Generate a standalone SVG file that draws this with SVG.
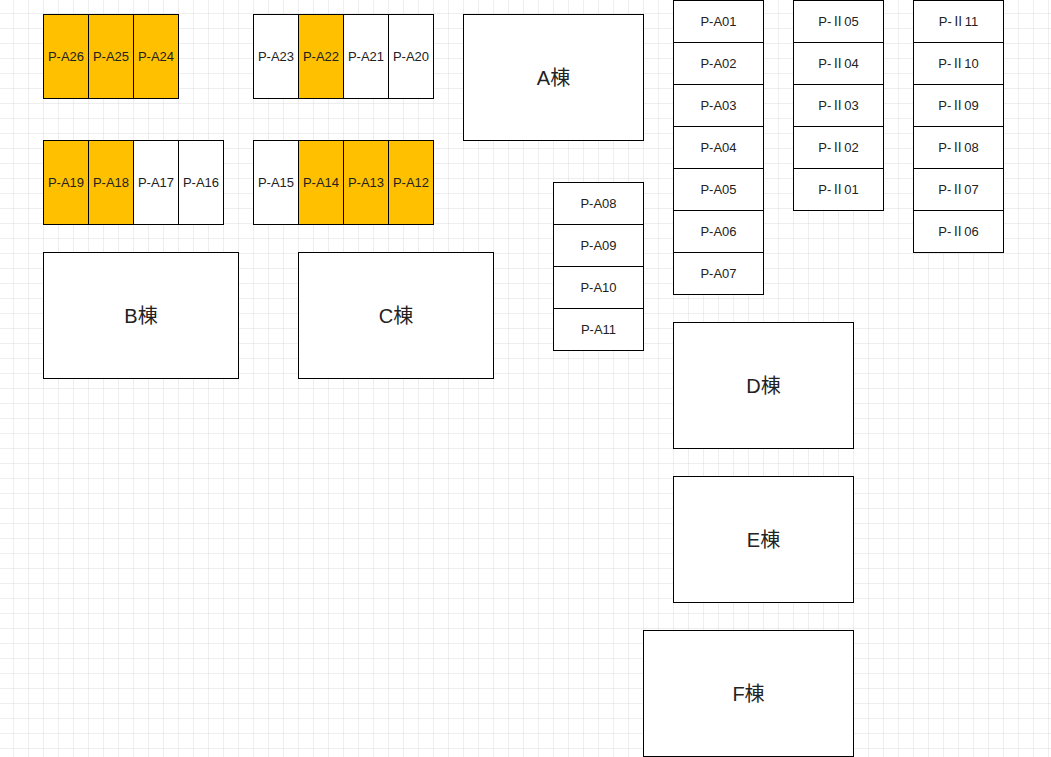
<svg xmlns="http://www.w3.org/2000/svg" width="1051" height="757" viewBox="0 0 1051 757">
<defs>
<pattern id="grid" x="-1" y="-1" width="15" height="15" patternUnits="userSpaceOnUse">
<path d="M15 0V15M0 15H15" fill="none" stroke="#dddddd" stroke-width="1"/>
</pattern>
<style>
rect.c{fill:#fff;stroke:#000;stroke-width:1}
rect.o{fill:#FFC000;stroke:#000;stroke-width:1}
text{font-family:"Liberation Sans","Noto Sans CJK JP",sans-serif;fill:#222;text-anchor:middle;dominant-baseline:central}
text.s{font-size:13px}
text.b{font-size:20px}
</style>
</defs>
<rect width="1051" height="757" fill="#fff"/>
<rect width="1051" height="757" fill="url(#grid)"/>
<g id="A26"><rect class="o" x="43.5" y="14.5" width="45" height="84"/><text class="s" x="66" y="56.5">P-A26</text></g>
<g id="A25"><rect class="o" x="88.5" y="14.5" width="45" height="84"/><text class="s" x="111" y="56.5">P-A25</text></g>
<g id="A24"><rect class="o" x="133.5" y="14.5" width="45" height="84"/><text class="s" x="156" y="56.5">P-A24</text></g>
<g id="A23"><rect class="c" x="253.5" y="14.5" width="45" height="84"/><text class="s" x="276" y="56.5">P-A23</text></g>
<g id="A22"><rect class="o" x="298.5" y="14.5" width="45" height="84"/><text class="s" x="321" y="56.5">P-A22</text></g>
<g id="A21"><rect class="c" x="343.5" y="14.5" width="45" height="84"/><text class="s" x="366" y="56.5">P-A21</text></g>
<g id="A20"><rect class="c" x="388.5" y="14.5" width="45" height="84"/><text class="s" x="411" y="56.5">P-A20</text></g>
<g id="A19"><rect class="o" x="43.5" y="140.5" width="45" height="84"/><text class="s" x="66" y="182.5">P-A19</text></g>
<g id="A18"><rect class="o" x="88.5" y="140.5" width="45" height="84"/><text class="s" x="111" y="182.5">P-A18</text></g>
<g id="A17"><rect class="c" x="133.5" y="140.5" width="45" height="84"/><text class="s" x="156" y="182.5">P-A17</text></g>
<g id="A16"><rect class="c" x="178.5" y="140.5" width="45" height="84"/><text class="s" x="201" y="182.5">P-A16</text></g>
<g id="A15"><rect class="c" x="253.5" y="140.5" width="45" height="84"/><text class="s" x="276" y="182.5">P-A15</text></g>
<g id="A14"><rect class="o" x="298.5" y="140.5" width="45" height="84"/><text class="s" x="321" y="182.5">P-A14</text></g>
<g id="A13"><rect class="o" x="343.5" y="140.5" width="45" height="84"/><text class="s" x="366" y="182.5">P-A13</text></g>
<g id="A12"><rect class="o" x="388.5" y="140.5" width="45" height="84"/><text class="s" x="411" y="182.5">P-A12</text></g>
<g id="bA"><rect class="c" x="463.5" y="14.5" width="180" height="126"/><text class="b" x="553.5" y="77.5">A棟</text></g>
<g id="bB"><rect class="c" x="43.5" y="252.5" width="195" height="126"/><text class="b" x="141" y="315.5">B棟</text></g>
<g id="bC"><rect class="c" x="298.5" y="252.5" width="195" height="126"/><text class="b" x="396" y="315.5">C棟</text></g>
<g id="bD"><rect class="c" x="673.5" y="322.5" width="180" height="126"/><text class="b" x="763.5" y="385.5">D棟</text></g>
<g id="bE"><rect class="c" x="673.5" y="476.5" width="180" height="126"/><text class="b" x="763.5" y="539.5">E棟</text></g>
<g id="bF"><rect class="c" x="643.5" y="630.5" width="210" height="126"/><text class="b" x="748.5" y="693.5">F棟</text></g>
<g id="A08"><rect class="c" x="553.5" y="182.5" width="90" height="42"/><text class="s" x="598.5" y="203.5">P-A08</text></g>
<g id="A09"><rect class="c" x="553.5" y="224.5" width="90" height="42"/><text class="s" x="598.5" y="245.5">P-A09</text></g>
<g id="A10"><rect class="c" x="553.5" y="266.5" width="90" height="42"/><text class="s" x="598.5" y="287.5">P-A10</text></g>
<g id="A11"><rect class="c" x="553.5" y="308.5" width="90" height="42"/><text class="s" x="598.5" y="329.5">P-A11</text></g>
<g id="A01"><rect class="c" x="673.5" y="0.5" width="90" height="42"/><text class="s" x="718.5" y="21.5">P-A01</text></g>
<g id="A02"><rect class="c" x="673.5" y="42.5" width="90" height="42"/><text class="s" x="718.5" y="63.5">P-A02</text></g>
<g id="A03"><rect class="c" x="673.5" y="84.5" width="90" height="42"/><text class="s" x="718.5" y="105.5">P-A03</text></g>
<g id="A04"><rect class="c" x="673.5" y="126.5" width="90" height="42"/><text class="s" x="718.5" y="147.5">P-A04</text></g>
<g id="A05"><rect class="c" x="673.5" y="168.5" width="90" height="42"/><text class="s" x="718.5" y="189.5">P-A05</text></g>
<g id="A06"><rect class="c" x="673.5" y="210.5" width="90" height="42"/><text class="s" x="718.5" y="231.5">P-A06</text></g>
<g id="A07"><rect class="c" x="673.5" y="252.5" width="90" height="42"/><text class="s" x="718.5" y="273.5">P-A07</text></g>
<g id="B05"><rect class="c" x="793.5" y="0.5" width="90" height="42"/><text class="s" x="838.5" y="21.5">P-Ⅱ05</text></g>
<g id="B04"><rect class="c" x="793.5" y="42.5" width="90" height="42"/><text class="s" x="838.5" y="63.5">P-Ⅱ04</text></g>
<g id="B03"><rect class="c" x="793.5" y="84.5" width="90" height="42"/><text class="s" x="838.5" y="105.5">P-Ⅱ03</text></g>
<g id="B02"><rect class="c" x="793.5" y="126.5" width="90" height="42"/><text class="s" x="838.5" y="147.5">P-Ⅱ02</text></g>
<g id="B01"><rect class="c" x="793.5" y="168.5" width="90" height="42"/><text class="s" x="838.5" y="189.5">P-Ⅱ01</text></g>
<g id="B11"><rect class="c" x="913.5" y="0.5" width="90" height="42"/><text class="s" x="958.5" y="21.5">P-Ⅱ11</text></g>
<g id="B10"><rect class="c" x="913.5" y="42.5" width="90" height="42"/><text class="s" x="958.5" y="63.5">P-Ⅱ10</text></g>
<g id="B09"><rect class="c" x="913.5" y="84.5" width="90" height="42"/><text class="s" x="958.5" y="105.5">P-Ⅱ09</text></g>
<g id="B08"><rect class="c" x="913.5" y="126.5" width="90" height="42"/><text class="s" x="958.5" y="147.5">P-Ⅱ08</text></g>
<g id="B07"><rect class="c" x="913.5" y="168.5" width="90" height="42"/><text class="s" x="958.5" y="189.5">P-Ⅱ07</text></g>
<g id="B06"><rect class="c" x="913.5" y="210.5" width="90" height="42"/><text class="s" x="958.5" y="231.5">P-Ⅱ06</text></g>
<g id="connectors"/>
</svg>
